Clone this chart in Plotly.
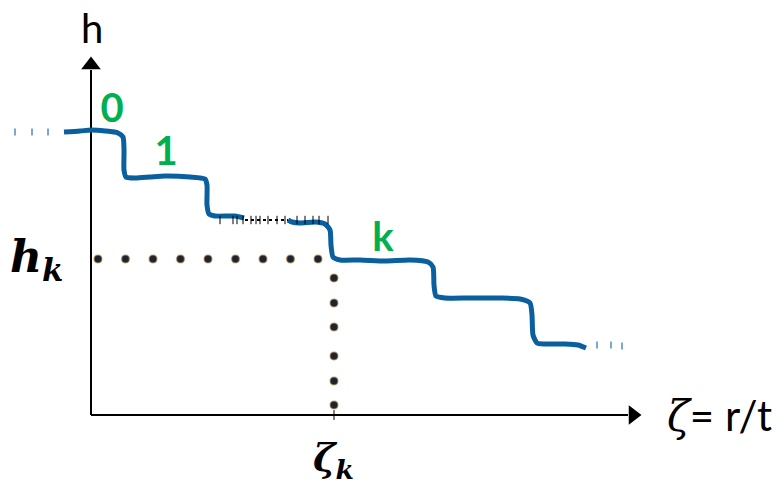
import plotly.graph_objects as go

# Coordinate system: origin at the axis corner; zeta to the right, h upward (schematic units)
OX, OY = 91, 415  # pixel position of origin (used only for axis ranges)

# Staircase curve h(zeta), hand-drawn look: part before the dashed gap
curve_a_zeta = [-27, -11, 0, 14, 27, 32, 33, 33, 35, 44, 59, 74, 99, 114, 116, 116, 118, 124, 144, 153]
curve_a_h = [283, 284, 285, 284, 282, 278, 265, 245, 238, 237, 238, 239, 238, 236, 230, 210, 201, 199, 199, 197]
# part after the dashed gap
curve_b_zeta = [197, 201, 209, 224, 234, 239, 240, 242, 249, 269, 294, 319, 337, 342, 343, 345, 354, 379, 409, 429,
                439, 441, 442, 446, 454, 474, 487, 495]
curve_b_h = [195, 193, 192, 193, 191, 185, 170, 158, 155, 155, 154, 155, 153, 148, 130, 119, 117, 117, 117, 116,
             112, 100, 80, 72, 71, 71, 70, 67]
# dashed gap between the two parts
gap_zeta = [154, 197]
gap_h = [195, 195]
gap_ticks_zeta = [129, 142, 146, 152, 160, 165, 169, 177, 186, 194, 206, 214, 222, 228, 237]
gap_ticks_h = [195] * 15
# continuation ticks
lead_zeta = [-76, -59, -43]
lead_h = [283, 283, 283]
trail_zeta = [506, 520, 531]
trail_h = [70, 70, 69]

# dotted guide lines to (zeta_k, h_k)
zeta_k = 243
h_k = 156
hdots_zeta = [7, 34.5, 62, 89.5, 117, 144.5, 172, 199.5, 227]
vdots_h = [137, 112, 88, 59, 34, 10]

# labels
step_labels = ["<b>0</b>", "<b>1</b>", "<b>k</b>"]
step_label_zeta = [21, 75, 292]
step_label_h = [303, 260, 174]

line_color = "#0A5F9E"
green = "#00B050"

fig = go.Figure()

# axes lines
fig.add_trace(go.Scatter(x=[0, 0], y=[0, 345], mode="lines", line=dict(color="black", width=2),
                         hoverinfo="skip", showlegend=False))
fig.add_trace(go.Scatter(x=[0, 537], y=[0, 0], mode="lines", line=dict(color="black", width=2),
                         hoverinfo="skip", showlegend=False))
fig.add_trace(go.Scatter(x=[0], y=[350], mode="markers",
                         marker=dict(symbol="triangle-up", size=17, color="black"),
                         hoverinfo="skip", showlegend=False))
fig.add_trace(go.Scatter(x=[542], y=[0], mode="markers",
                         marker=dict(symbol="triangle-right", size=17, color="black"),
                         hoverinfo="skip", showlegend=False))

# dotted guides
dot_marker = dict(size=8, color="#1b2433", line=dict(color="rgba(205,150,80,0.55)", width=1.5))
fig.add_trace(go.Scatter(x=hdots_zeta, y=[h_k] * len(hdots_zeta), mode="markers",
                         marker=dot_marker, hoverinfo="skip", showlegend=False))
fig.add_trace(go.Scatter(x=[zeta_k] * len(vdots_h), y=vdots_h, mode="markers",
                         marker=dot_marker, hoverinfo="skip", showlegend=False))
fig.add_trace(go.Scatter(x=[zeta_k], y=[0], mode="markers",
                         marker=dict(symbol="line-ns", size=7, line=dict(color="black", width=1)),
                         hoverinfo="skip", showlegend=False))

# staircase curve
fig.add_trace(go.Scatter(x=curve_a_zeta, y=curve_a_h, mode="lines",
                         line=dict(color=line_color, width=5, shape="spline", smoothing=0.6),
                         hoverinfo="skip", showlegend=False))
fig.add_trace(go.Scatter(x=curve_b_zeta, y=curve_b_h, mode="lines",
                         line=dict(color=line_color, width=5, shape="spline", smoothing=0.6),
                         hoverinfo="skip", showlegend=False))
fig.add_trace(go.Scatter(x=gap_zeta, y=gap_h, mode="lines",
                         line=dict(color="black", width=2, dash="dot"),
                         hoverinfo="skip", showlegend=False))
fig.add_trace(go.Scatter(x=gap_ticks_zeta, y=gap_ticks_h, mode="markers",
                         marker=dict(symbol="line-ns", size=6, line=dict(color="black", width=1)),
                         hoverinfo="skip", showlegend=False))
fig.add_trace(go.Scatter(x=lead_zeta + trail_zeta, y=lead_h + trail_h, mode="markers",
                         marker=dict(symbol="line-ns", size=5, line=dict(color="#4A8CC4", width=1.5)),
                         hoverinfo="skip", showlegend=False))

# step labels
fig.add_trace(go.Scatter(x=step_label_zeta, y=step_label_h, mode="text", text=step_labels,
                         textfont=dict(family="Lato", size=40, color=green),
                         hoverinfo="skip", showlegend=False))

annotations = [
    dict(x=1, y=387, text="h", font=dict(family="Lato", size=40, color="black")),
    dict(x=628, y=0,
         text="<span style='font-family:DejaVu Serif'><i>ζ</i></span>= r/t",
         font=dict(family="Lato", size=42, color="black")),
    dict(x=-55, y=156, text="<b><i>h</i></b><sub><b><i>k</i></b></sub>",
         font=dict(family="DejaVu Serif", size=44, color="black")),
    dict(x=242, y=-45, text="<b><i>ζ</i></b><sub><b><i>k</i></b></sub>",
         font=dict(family="DejaVu Serif", size=38, color="black")),
]
for a in annotations:
    a.update(xref="x", yref="y", showarrow=False)

fig.update_layout(
    width=784, height=486,
    margin=dict(l=0, r=0, t=0, b=0),
    paper_bgcolor="white", plot_bgcolor="white",
    xaxis=dict(range=[-OX, 784 - OX], visible=False, fixedrange=True),
    yaxis=dict(range=[OY - 486, OY], visible=False, fixedrange=True),
    annotations=annotations,
)

fig.write_html("out.html", config={"displayModeBar": False},
               post_script="document.body.style.margin='0';")
